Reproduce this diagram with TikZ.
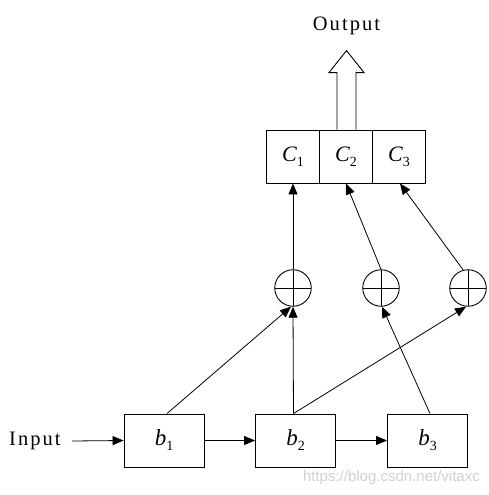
\documentclass[tikz,border=0pt]{standalone}
\usepackage{fontspec}
\setmainfont{Liberation Serif}
\newfontfamily\wmfont{Liberation Sans}
\usetikzlibrary{arrows.meta}
\newcommand{\lab}[2]{\textit{#1}\raisebox{-5pt}{\fontsize{14}{14}\selectfont #2}}
\begin{document}
\begin{tikzpicture}[x=1pt,y=-1pt,
  arr/.style={-{Triangle[length=11pt,width=9pt]},line width=0.8pt},
  blk/.style={draw,line width=0.9pt,minimum width=80pt,minimum height=53pt,inner sep=0pt,font=\fontsize{23}{23}\selectfont},
  cbox/.style={draw,line width=0.9pt,minimum width=52.5pt,minimum height=53pt,inner sep=0pt,font=\fontsize{22}{22}\selectfont},
  sumc/.style={draw,circle,line width=0.9pt,minimum size=36.5pt,inner sep=0pt,
    path picture={\draw[line width=0.9pt] (path picture bounding box.north) -- (path picture bounding box.south)
      (path picture bounding box.west) -- (path picture bounding box.east);}},
  word/.style={font=\fontsize{20.5}{20.5}\selectfont\addfontfeature{LetterSpace=10},inner sep=0pt}]
\useasboundingbox (0,0) rectangle (489,495);
% bottom blocks
\node[blk] (b1) at (164,440.5) {\lab{b}{1}};
\node[blk] (b2) at (295.5,440.5) {\lab{b}{2}};
\node[blk] (b3) at (427.5,440.5) {\lab{b}{3}};
\node[word,anchor=west] (in) at (9,441) {Input};
% top boxes
\node[cbox] (c1) at (293,156.5) {\lab{C}{1}};
\node[cbox] (c2) at (346,156.5) {\lab{C}{2}};
\node[cbox] (c3) at (399,156.5) {\lab{C}{3}};
% sum circles
\node[sumc] (s1) at (293,288) {};
\node[sumc] (s2) at (381,288) {};
\node[sumc] (s3) at (468,288) {};
% output
\node[word] (out) at (346.5,26) {Output};
\coordinate (ob) at (c2.north);
\draw[line width=0.9pt] ([xshift=-9pt]ob) -- ([xshift=-9pt,yshift=57pt]ob) -- ([xshift=-17pt,yshift=57pt]ob)
  -- ([xshift=0.5pt,yshift=79pt]ob) -- ([xshift=18pt,yshift=57pt]ob) -- ([xshift=10pt,yshift=57pt]ob) -- ([xshift=10pt]ob);
% connectors
\draw[arr] ([xshift=63pt]in.west) -- (b1.west);
\draw[arr] (b1.east) -- (b2.west);
\draw[arr] (b2.east) -- (b3.west);
\draw[arr] ([xshift=3pt]b1.north) -- ([xshift=-2pt]s1.south);
\draw[arr] ([xshift=-2pt]b2.north) -- (s1.south);
\draw[arr] ([xshift=-2pt]b2.north) -- ([xshift=-2pt]s3.south);
\draw[arr] ([xshift=2.5pt]b3.north) -- ([xshift=1pt]s2.south);
\draw[arr] (s1.north) -- (c1.south);
\draw[arr] (s2.north) -- (c2.south);
\draw[arr] (s3.105) -- ([xshift=1pt]c3.south);
% watermark
\node[anchor=east,inner sep=0pt,text=black!18,font=\wmfont\fontsize{15}{15}\selectfont] (wm) at (480,478) {https://blog.csdn.net/vitaxc};
\end{tikzpicture}
\end{document}
